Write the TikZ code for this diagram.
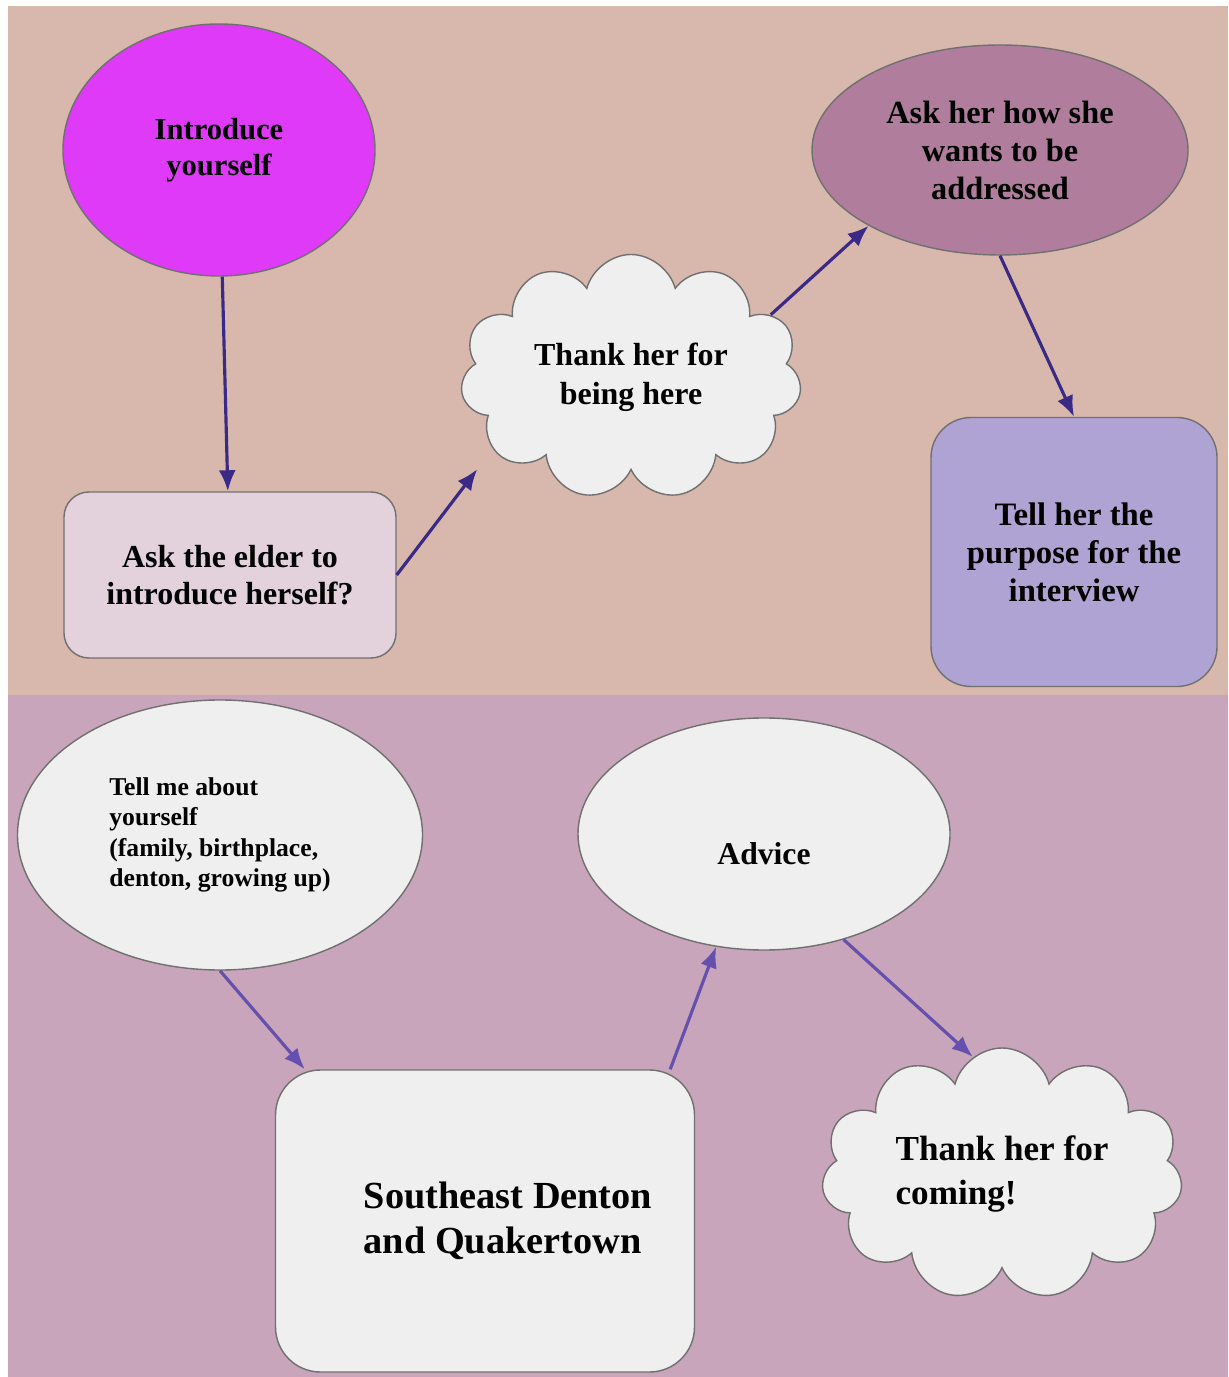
\documentclass[tikz,border=0pt]{standalone}
\usepackage{fontspec}
\setmainfont{Liberation Serif}
\usepackage{tikz}
\usetikzlibrary{arrows.meta,positioning,shapes.geometric,shapes.symbols}
\definecolor{topbg}{HTML}{D8B8AC}
\definecolor{botbg}{HTML}{C8A5BA}
\definecolor{magentafill}{HTML}{DE3AF7}
\definecolor{mauvefill}{HTML}{B07E9C}
\definecolor{lavfill}{HTML}{AFA3D3}
\definecolor{pinkfill}{HTML}{E3D2DC}
\definecolor{cloudgray}{HTML}{EFEFEF}
\definecolor{edgegray}{HTML}{707070}
\definecolor{darklink}{HTML}{3A2A85}
\definecolor{lightlink}{HTML}{6550AD}
\newcommand{\fsz}[2]{\bfseries\fontsize{#1}{#2}\selectfont}
\tikzstyle{flowell} = [ellipse, draw=edgegray, thin, inner sep=1pt]
\tikzstyle{flowbox} = [rectangle, draw=edgegray, thin, inner sep=1pt]
\tikzstyle{flowcloud} = [cloud, cloud puffs=11, cloud ignores aspect, draw=edgegray, thin,
                         fill=cloudgray, inner sep=1pt]
\tikzstyle{flowlink} = [draw, line width=0.9pt, -{Latex[length=2.1mm,width=1.7mm]}]

\begin{document}
\begin{tikzpicture}[x=0.1mm, y=-0.1mm]
        % page and the two bands
        \fill[white] (0,0) rectangle (1228,1377);
        \useasboundingbox (0,0) rectangle (1228,1377);
        \fill[topbg] (8,6) rectangle (1228,695);
        \fill[botbg] (8,695) rectangle (1228,1377);
        % upper band
        \node[flowell, fill=magentafill, minimum width=31.2mm, minimum height=25.2mm, align=center,
          font=\fsz{8.7}{10.2}] (intro) at (219,150) {Introduce\\yourself};
        \node[flowbox, fill=pinkfill, rounded corners=2.5mm, minimum width=33.2mm, minimum height=16.6mm,
          align=center, font=\fsz{9.1}{10.6}] (elder) at (230,575) {Ask the elder to\\introduce herself?};
        \node[flowcloud, minimum width=34.1mm, minimum height=24.5mm, align=center,
          font=\fsz{9.1}{11}] (thanks) at (631,377) {Thank her for\\being here};
        \node[flowell, fill=mauvefill, minimum width=37.6mm, minimum height=21mm, align=center,
          font=\fsz{9.2}{10.8}] (askhow) at (1000,150) {Ask her how she\\wants to be\\addressed};
        \node[flowbox, fill=lavfill, rounded corners=4mm, minimum width=28.6mm, minimum height=26.9mm,
          align=center, font=\fsz{9.3}{10.8}] (purpose) at (1074,552) {Tell her the\\purpose for the\\interview};
        % lower band
        \node[flowell, fill=cloudgray, minimum width=40.5mm, minimum height=27mm, align=left,
          font=\fsz{7.3}{8.6}] (aboutme) at (220,835) {Tell me about\\yourself\\(family, birthplace,\\denton, growing up)};
        \node[flowell, fill=cloudgray, minimum width=37.2mm, minimum height=23.2mm,
          font=\fsz{9}{10.8}] (advice) at (764,834) {\raisebox{-3mm}[0pt][0pt]{Advice}};
        \node[flowbox, fill=cloudgray, rounded corners=4.5mm, minimum width=41.9mm, minimum height=30.2mm,
          align=left, font=\fsz{10.9}{12.8}] (denton) at (485,1221)
          {\hspace*{4.6mm}Southeast Denton\\\hspace*{4.6mm}and Quakertown};
        \node[flowcloud, minimum width=36.1mm, minimum height=25.2mm, align=left,
          font=\fsz{10}{12.4}] (thankscome) at (1002,1174) {Thank her for\\coming!};
        % links
        \draw[flowlink, darklink] (intro) -- (elder);
        \draw[flowlink, darklink] (elder.east) -- ([shift={(-2mm,-1.5mm)}]thanks.210);
        \draw[flowlink, darklink] (thanks.24) -- (askhow.210);
        \draw[flowlink, darklink] (askhow.south) -- (purpose.north);
        \draw[flowlink, lightlink] (aboutme.south) -- ([xshift=3mm]denton.north west);
        \draw[flowlink, lightlink] ([xshift=-2.5mm]denton.north east) -- (advice.247);
        \draw[flowlink, lightlink] (advice.307) -- (thankscome.104);
      \end{tikzpicture}
\end{document}
